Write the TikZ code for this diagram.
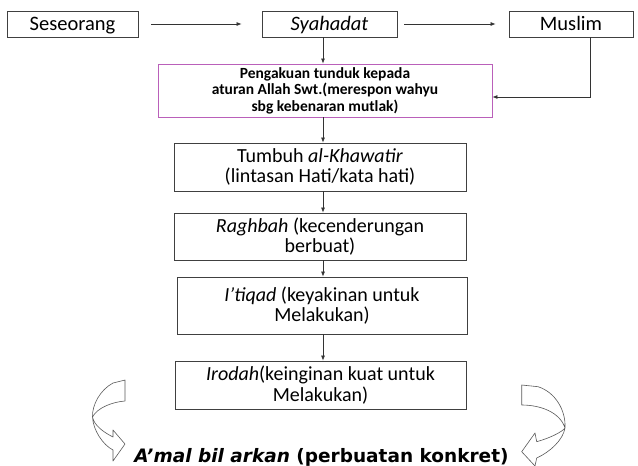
\documentclass[tikz,border=0pt]{standalone}
\usepackage{fontspec}
\setmainfont{Carlito}
\newfontfamily\heavyfont{DejaVu Sans}
\usetikzlibrary{arrows.meta}
\definecolor{boxline}{RGB}{64,64,64}
\definecolor{pinkline}{RGB}{186,96,186}

\begin{document}
\begin{tikzpicture}[x=1pt,y=-1pt]
	\tikzstyle{topbox} = [draw=boxline, line width=0.8pt, minimum height=26pt, inner sep=0pt, text height=15pt, text depth=3pt, font=\fontsize{20.5}{22}\selectfont]
	\tikzstyle{stepbox} = [draw=boxline, line width=0.8pt, minimum width=291pt, minimum height=48pt, inner sep=0pt, align=center, font=\fontsize{20}{20.5}\selectfont]
	\tikzstyle{flow} = [draw=black!80, line width=0.7pt, -{Latex[length=5pt,width=4pt]}]
	\tikzstyle{bendarrow} = [draw=black!65, fill=white, line width=0.6pt, line join=round]
	\useasboundingbox (0,0) rectangle (638,466);
	\node[topbox, minimum width=131pt] (seseorang) at (72.5,24) {Seseorang};
	\node[topbox, minimum width=135pt] (syahadat) at (329.5,24) {\textit{Syahadat}};
	\node[topbox, minimum width=124pt] (muslim) at (571,24) {Muslim};
	\node[draw=pinkline, line width=0.9pt, minimum width=334pt, minimum height=53pt, inner sep=0pt, align=center, font=\fontsize{15.5}{16.5}\selectfont\bfseries] (pengakuan) at (325,90.5) {Pengakuan tunduk kepada\\aturan Allah Swt.(merespon wahyu\\sbg kebenaran mutlak)};
	\node[stepbox, minimum width=292pt] (khawatir) at (320,167) {Tumbuh \textit{al-Khawatir}\\(lintasan Hati/kata hati)};
	\node[stepbox, minimum width=292pt, minimum height=47pt] (raghbah) at (320,236.5) {\textit{Raghbah} (kecenderungan\\berbuat)};
	\node[stepbox, minimum width=290pt, minimum height=57pt] (itiqad) at (322,305.5) {\textit{I’tiqad} (keyakinan untuk\\Melakukan)};
	\node[stepbox] (irodah) at (320.5,385) {\textit{Irodah}(keinginan kuat untuk\\Melakukan)};
	\node[anchor=base, inner sep=0pt, font=\heavyfont\fontsize{18.5}{20}\selectfont\bfseries] (amal) at (321.5,462) {\textit{A’mal bil arkan} (perbuatan konkret)};
	\coordinate (spine) at (323,0);
	\coordinate (elbow) at (590,97);
	\draw[flow, shorten <=13pt, shorten >=20pt] (seseorang) -- (syahadat);
	\draw[flow, shorten <=7pt, shorten >=13pt] (syahadat) -- (muslim);
	\draw[flow] (syahadat.south -| spine) -- (pengakuan.north -| spine);
	\draw[flow] (muslim.south -| elbow) -- (elbow) -- (pengakuan.east |- elbow);
	\draw[flow] (pengakuan.south -| spine) -- (khawatir.north -| spine);
	\draw[flow] (khawatir.south -| spine) -- (raghbah.north -| spine);
	\draw[flow] (raghbah.south -| spine) -- (itiqad.north -| spine);
	\draw[flow] (itiqad.south -| spine) -- (irodah.north -| spine);
	\draw[bendarrow] (113,383) .. controls (100,390) and (92,405) .. (92.5,417) .. controls (93,430) and (103,445) .. (113,450) -- (113,461) -- (125,444) -- (113,430) -- (113,437) .. controls (103,432) and (94,425) .. (92.5,417) .. controls (97,408) and (112,402) .. (125,401) -- (125,380) -- cycle;
	\draw[bendarrow] (521.7,385) -- (538,386.7) .. controls (555,392) and (566,410) .. (565,428) .. controls (563,440) and (550,452) .. (536.7,458) -- (535,466) -- (521.7,451.7) -- (535,433) -- (536.7,441.7) .. controls (550,438) and (562,432) .. (565,428) .. controls (560,412) and (540,405) .. (521.7,405) -- cycle;
\end{tikzpicture}
\end{document}
